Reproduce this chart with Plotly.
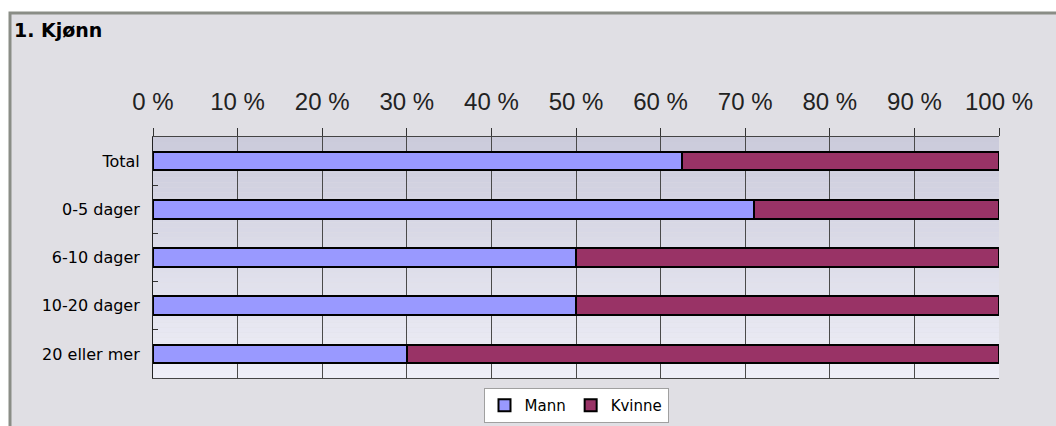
import plotly.graph_objects as go

categories = ["Total", "0-5 dager", "6-10 dager", "10-20 dager", "20 eller mer"]
mann = [62.5, 71.0, 50.0, 50.0, 30.0]
kvinne = [37.5, 29.0, 50.0, 50.0, 70.0]
tick_vals = [0, 10, 20, 30, 40, 50, 60, 70, 80, 90, 100]
tick_text = [f"{v} %" for v in tick_vals]

W, H = 1056, 426
L, R, T, B = 153, 57, 137, 48
pw, ph = W - L - R, H - T - B

def px_x(x):
    return (x - L) / pw

def px_y(y):
    return (H - B - y) / ph

fig = go.Figure()
fig.add_trace(go.Bar(y=categories, x=mann, name="Mann", orientation="h",
                     marker=dict(color="#9999FF", line=dict(color="#000000", width=2))))
fig.add_trace(go.Bar(y=categories, x=kvinne, name="Kvinne", orientation="h",
                     marker=dict(color="#993366", line=dict(color="#000000", width=2))))

shapes = []
# outer frame
shapes.append(dict(type="rect", xref="paper", yref="paper", layer="below",
                   x0=px_x(10), x1=px_x(1065), y0=px_y(440), y1=px_y(13),
                   fillcolor="#E0DFE4", line=dict(color="#8A8D86", width=3)))
# gradient plot background
n = 48
c0 = (0xCB, 0xCB, 0xDB)
c1 = (0xEE, 0xEE, 0xF7)
for i in range(n):
    t = i / (n - 1)
    c = tuple(round(a + (b - a) * t) for a, b in zip(c0, c1))
    shapes.append(dict(type="rect", xref="paper", yref="paper", layer="below",
                       x0=0, x1=1, y0=1 - (i + 1) / n, y1=1 - i / n,
                       fillcolor="rgb(%d,%d,%d)" % c, line=dict(width=0)))

fig.update_layout(
    width=W, height=H,
    margin=dict(l=L, r=R, t=T, b=B, autoexpand=False),
    paper_bgcolor="#FFFFFF",
    plot_bgcolor="rgba(0,0,0,0)",
    barmode="stack",
    bargap=0.615,
    showlegend=True,
    shapes=shapes,
    title=dict(text="<b>1. Kjønn</b>", xref="container", yref="container",
               x=14 / W, xanchor="left", y=1 - 30 / H, yanchor="middle",
               font=dict(family="DejaVu Sans", size=19, color="#000000")),
    legend=dict(orientation="h", x=0.5, xanchor="center", y=px_y(423), yanchor="bottom",
                bgcolor="#FFFFFF", bordercolor="#A0A0A0", borderwidth=1,
                font=dict(family="DejaVu Sans", size=15, color="#000000"),
                itemwidth=30, traceorder="normal"),
    xaxis=dict(side="top", range=[0, 100], tickvals=tick_vals, ticktext=tick_text,
               ticks="outside", ticklen=8, tickcolor="#333333", tickwidth=1,
               showgrid=True, gridcolor="#4A4A4A", gridwidth=1,
               showline=True, linecolor="#444444", linewidth=1, mirror=True,
               zeroline=False, ticklabelstandoff=8,
               tickfont=dict(family="Liberation Sans", size=24, color="#222222")),
    yaxis=dict(categoryorder="array", categoryarray=categories, autorange="reversed",
               ticks="inside", ticklen=5, tickcolor="#333333", tickson="boundaries",
               showgrid=False, showline=True, linecolor="#222222", linewidth=1,
               ticklabelstandoff=9,
               tickfont=dict(family="DejaVu Sans", size=16, color="#000000")),
)

fig.write_html("out.html")
